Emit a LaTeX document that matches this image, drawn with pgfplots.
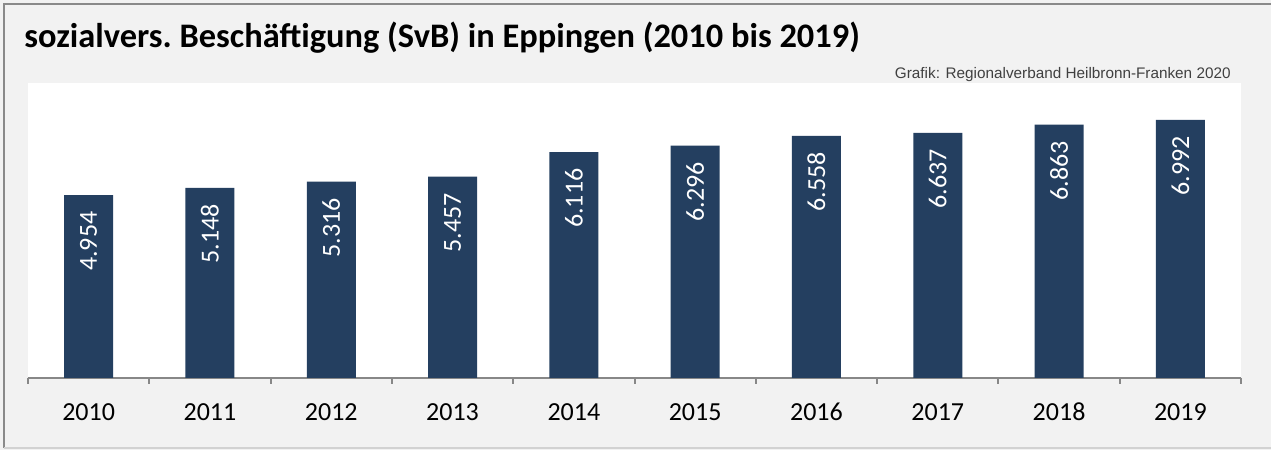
\documentclass[border=0pt]{standalone}
\usepackage{fontspec}
\setmainfont{Carlito}
\newfontfamily\arialfont{Liberation Sans}
\usepackage{pgfplots}
\pgfplotsset{compat=1.18}
\pgfdeclarelayer{background}
\pgfsetlayers{background,main}
\definecolor{barblue}{HTML}{243F60}
\definecolor{panelgray}{HTML}{F2F2F2}
\definecolor{framegray}{HTML}{8A8A8A}
\definecolor{axisgray}{HTML}{878787}
\definecolor{srcgray}{HTML}{404040}

\begin{document}
\begin{tikzpicture}[x=1pt,y=1pt]
\begin{axis}[
  scale only axis, width=606.5pt, height=147.5pt,
  ybar, bar width=24.5pt,
  xmin=-0.5, xmax=9.5, ymin=0, ymax=7990,
  axis y line=none, axis x line*=bottom,
  axis line style={axisgray, line width=1pt},
  axis background/.style={fill=white},
  xtick={0,...,9},
  xticklabels={2010,2011,2012,2013,2014,2015,2016,2017,2018,2019},
  major tick length=0pt,
  xticklabel style={font=\fontsize{13}{13}\selectfont, text=black,
    text height=9pt, text depth=0pt, yshift=-8.5pt},
  extra x ticks={-0.5,0.5,1.5,2.5,3.5,4.5,5.5,6.5,7.5,8.5,9.5},
  extra x tick labels={},
  extra x tick style={major tick length=3pt, tick align=outside,
    tick style={axisgray, line width=1pt}},
  nodes near coords={\pgfmathprintnumber[assume math mode=true,1000 sep={.}]{\pgfplotspointmeta}},
  every node near coord/.append style={rotate=90, anchor=east, text=white,
    font=\fontsize{13}{13}\selectfont, inner xsep=8pt},
]
\addplot[fill=barblue, draw=none] coordinates {
 (0,4954) (1,5148) (2,5316) (3,5457) (4,6116)
 (5,6296) (6,6558) (7,6637) (8,6863) (9,6992)
};
\coordinate (O) at (rel axis cs:0,0);
\end{axis}

\begin{pgfonlayer}{background}
\fill[panelgray] ([shift={(-14,-36)}]O) rectangle ++(635.5,225);
\draw[framegray, line width=1pt] ([shift={(-12,-35)}]O) -- ++(0,222) -- ++(640,0);
\draw[gray!35, line width=0.8pt] ([shift={(-12,-35)}]O) -- ++(640,0);
\end{pgfonlayer}

\node[anchor=base west, inner sep=0pt, font=\fontsize{17.2}{17.2}\selectfont\bfseries]
  at ([shift={(-2,165.35)}]O) {sozialvers.\ Beschäftigung (SvB) in Eppingen (2010 bis 2019)};
\node[anchor=base east, inner sep=0pt, text=srcgray, font=\arialfont\fontsize{7.65}{7.65}\selectfont]
  at ([shift={(601.5,149.6)}]O) {Grafik: Regionalverband Heilbronn-Franken 2020};

\pgfresetboundingbox
\useasboundingbox ([shift={(-14,-36)}]O) rectangle ++(635.5,225);
\end{tikzpicture}
\end{document}
